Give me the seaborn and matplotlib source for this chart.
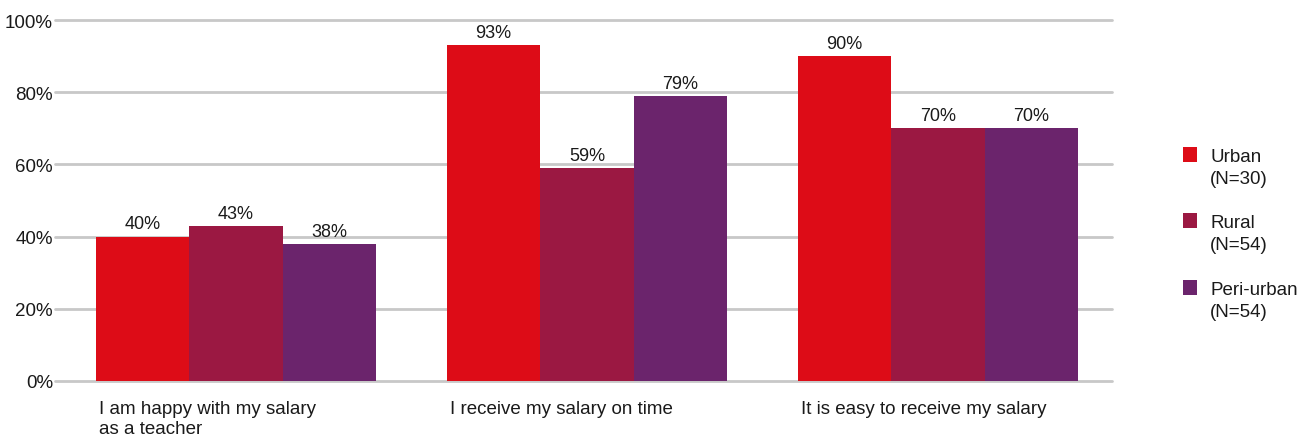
import matplotlib
matplotlib.use("Agg")
import matplotlib.pyplot as plt
import seaborn as sns
import pandas as pd
from matplotlib.patches import Rectangle

categories = ["I am happy with my salary\nas a teacher",
              "I receive my salary on time",
              "It is easy to receive my salary"]
groups = ["Urban\n(N=30)", "Rural\n(N=54)", "Peri-urban\n(N=54)"]
urban = [40, 93, 90]
rural = [43, 59, 70]
peri_urban = [38, 79, 70]
colors = ["#DD0C17", "#9B1842", "#6B246C"]
y_ticks = [0, 20, 40, 60, 80, 100]
y_labels = ["0%", "20%", "40%", "60%", "80%", "100%"]

df = pd.DataFrame({
    "statement": categories * 3,
    "group": [groups[0]] * 3 + [groups[1]] * 3 + [groups[2]] * 3,
    "value": urban + rural + peri_urban,
})

sns.set_theme(style="white")
plt.rcParams["font.family"] = ["Liberation Sans", "DejaVu Sans"]
text_color = "#1a1a1a"

W, H = 1301, 439
fig = plt.figure(figsize=(W / 100, H / 100), dpi=100)
ax = fig.add_axes([55 / W, 1 - 382 / H, (1112 - 55) / W, (382 - 21) / H])

sns.barplot(data=df, x="statement", y="value", hue="group",
            palette=colors, width=0.8, saturation=1, dodge=True,
            linewidth=0, ax=ax, legend=False, order=categories,
            hue_order=groups)

for cont in ax.containers:
    ax.bar_label(cont, labels=[f"{v:.0f}%" for v in cont.datavalues],
                 padding=3, fontsize=13, color=text_color)

ax.set_ylim(0, 100)
ax.set_xlim(-0.516, 2.496)
ax.set_yticks(y_ticks)
ax.set_yticklabels(y_labels, fontsize=13.5, color=text_color)
ax.yaxis.grid(True, color="#c8c8c8", linewidth=2)
for gl in ax.get_ygridlines():
    gl.set_clip_on(False)
ax.set_axisbelow(True)
for s in ax.spines.values():
    s.set_visible(False)
ax.tick_params(axis="y", length=0, pad=1.5)

# Category labels sit left-aligned under the first bar of each group
ax.set_xticks([i - 0.39 for i in range(len(categories))])
ax.set_xticklabels(categories, ha="left", fontsize=13.5, color=text_color,
                   linespacing=1.22)
ax.tick_params(axis="x", length=0, pad=13.5)
ax.set_xlabel("")
ax.set_ylabel("")

# Legend: square swatch beside the first line of each two-line label
sw, sh = 14 / W, 15 / H
x0 = 1183 / W
tx = 1210 / W
row_tops = [148, 214, 281]
for c, lab, top in zip(colors, groups, row_tops):
    fig.patches.append(Rectangle((x0, 1 - (top + 15) / H), sw, sh,
                                 transform=fig.transFigure, facecolor=c,
                                 edgecolor="none"))
    name, count = lab.split("\n")
    fig.text(tx, 1 - (top + 14) / H, name, ha="left", va="baseline",
             fontsize=13.5, color=text_color)
    fig.text(tx, 1 - (top + 36) / H, count, ha="left", va="baseline",
             fontsize=13.5, color=text_color)

fig.savefig("out.png", dpi=100)
